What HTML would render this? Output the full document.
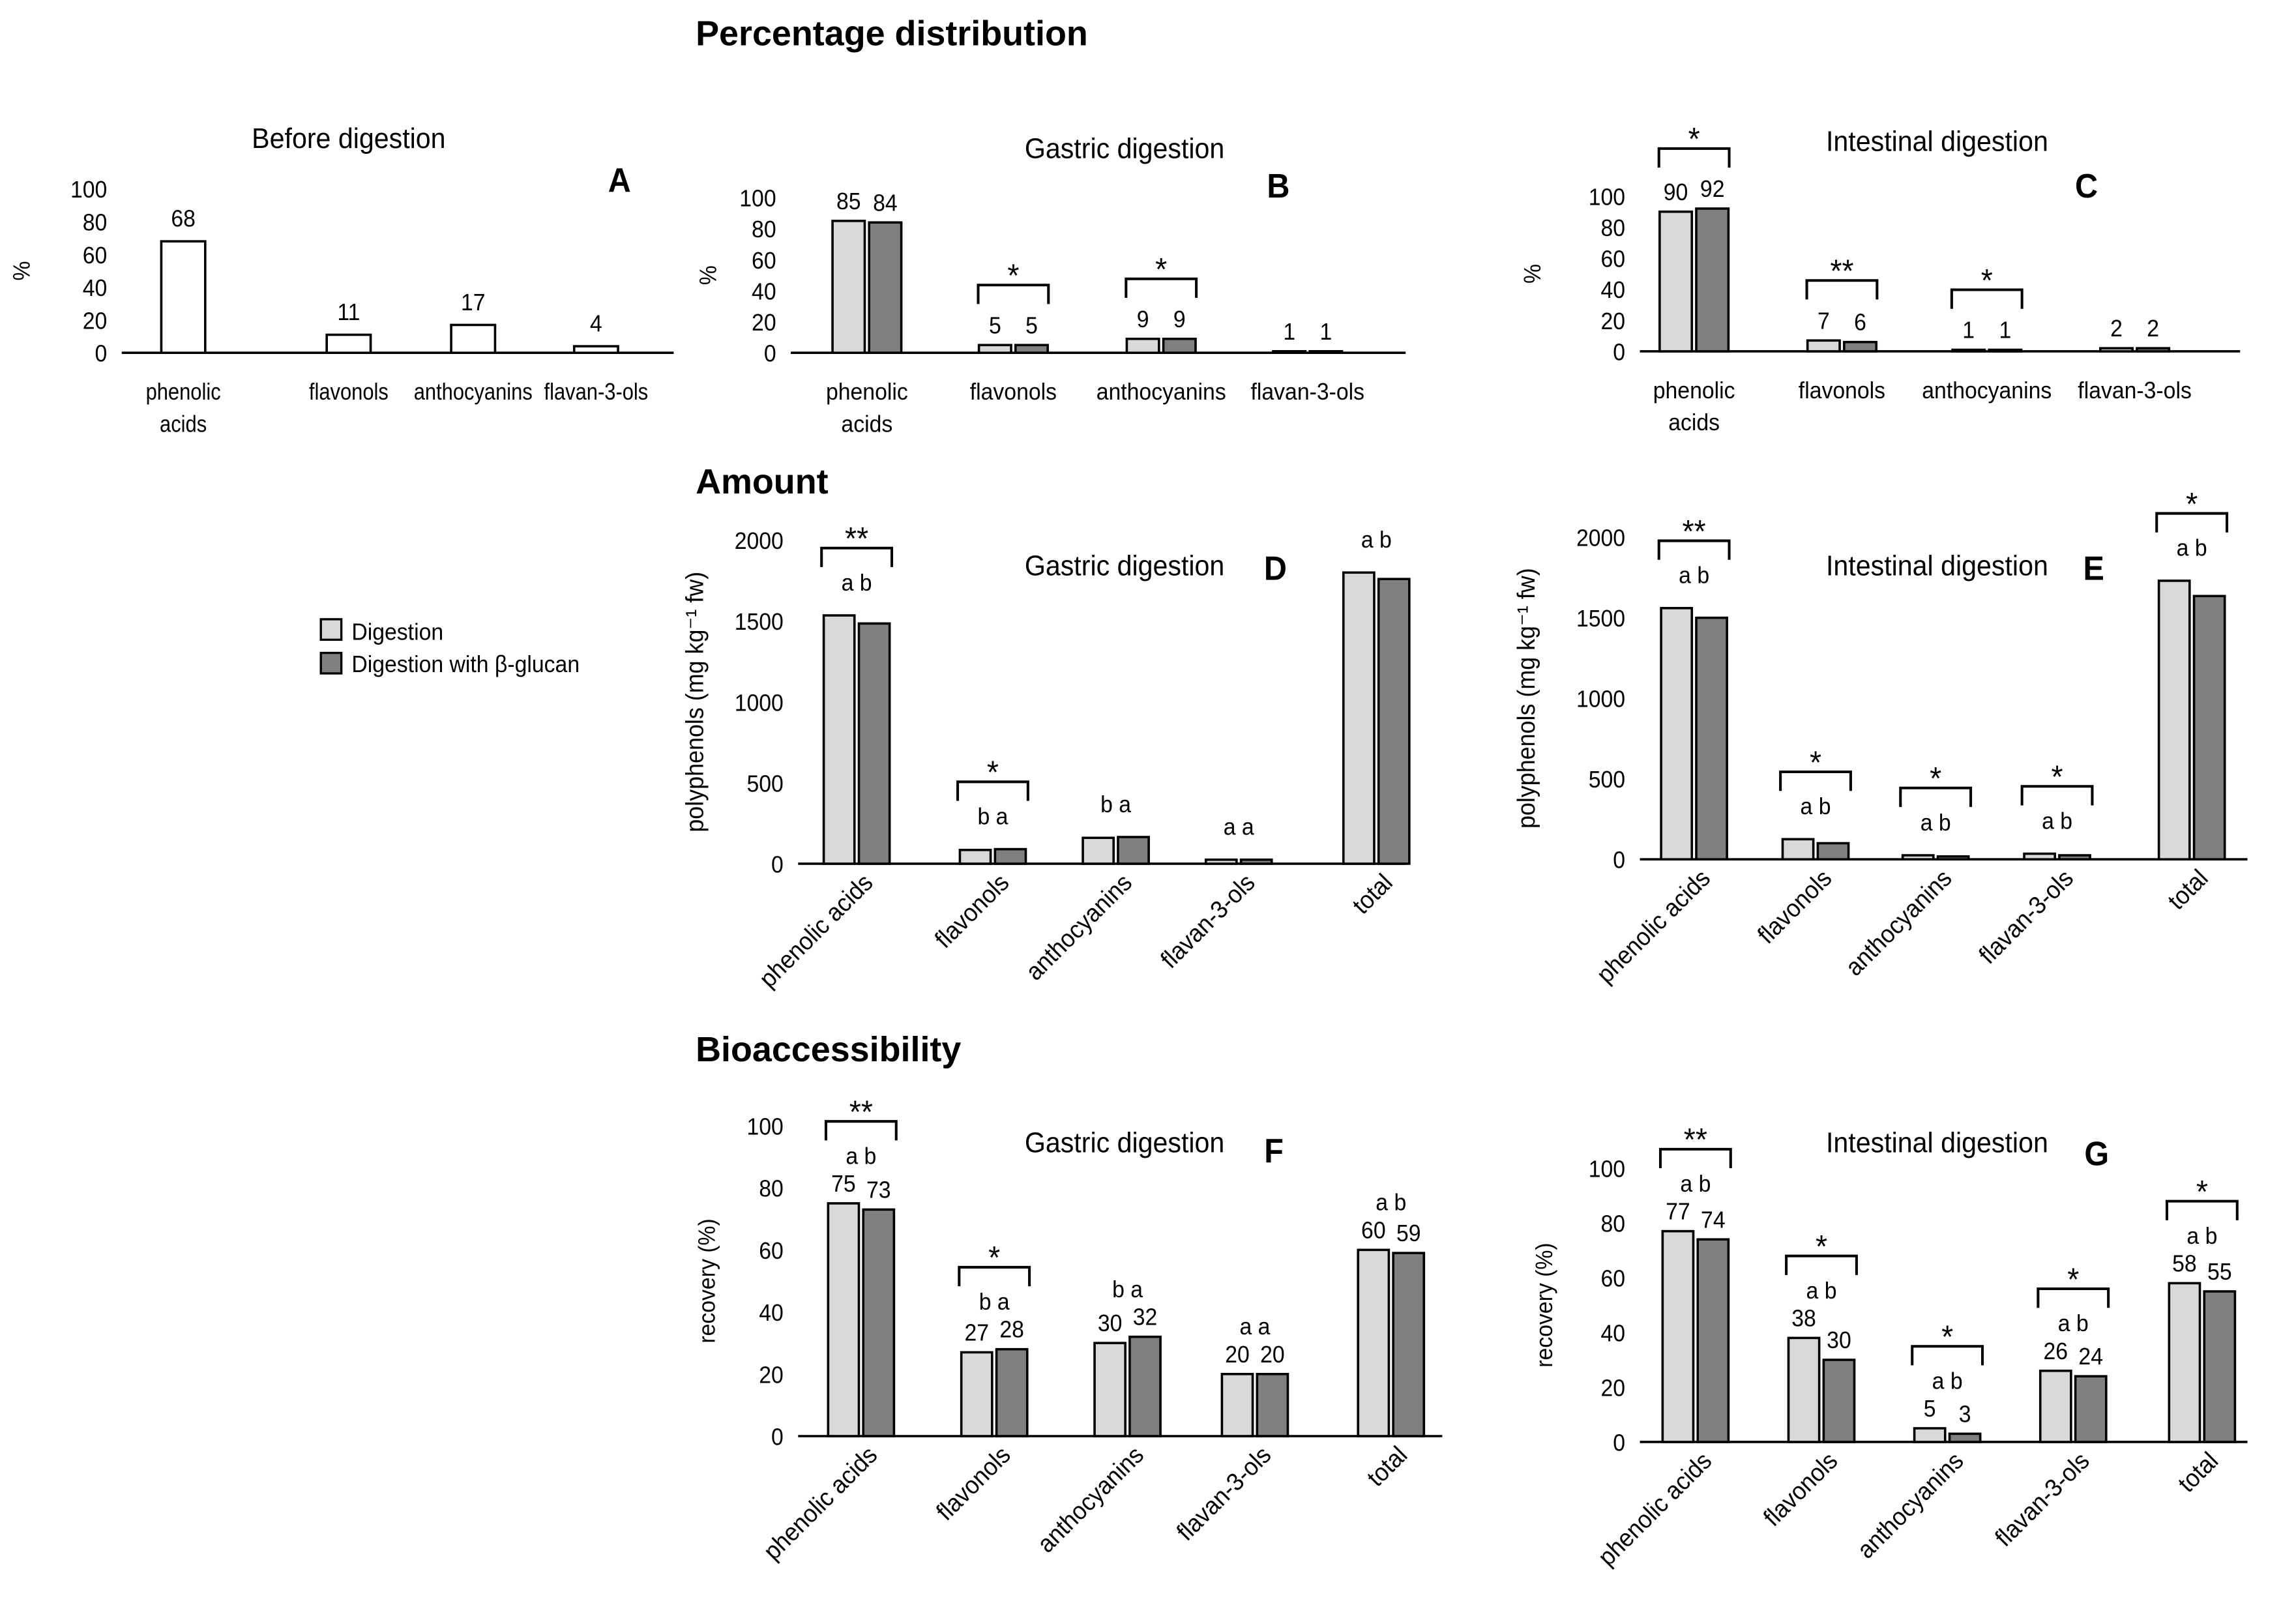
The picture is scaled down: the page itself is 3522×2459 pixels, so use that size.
<!DOCTYPE html>
<html><head><meta charset="utf-8"><style>
html,body{margin:0;padding:0;background:#fff;}
svg{display:block;}
text{font-family:"Liberation Sans",sans-serif;fill:#000;}
</style></head><body>
<svg id="fig" xmlns="http://www.w3.org/2000/svg" width="3522" height="2459" viewBox="0 0 1568 1095">
<rect width="1568" height="1095" fill="#fff"/>
<text x="475" y="31" font-size="24" font-weight="bold">Percentage distribution</text>
<text x="475" y="337" font-size="24" font-weight="bold">Amount</text>
<text x="475" y="725" font-size="24" font-weight="bold">Bioaccessibility</text>
<g>
<rect x="219" y="423" width="14" height="14" fill="#d9d9d9" stroke="#000" stroke-width="1.5"/>
<text transform="translate(240,437) scale(0.94,1)" font-size="16">Digestion</text>
<rect x="219" y="446" width="14" height="14" fill="#808080" stroke="#000" stroke-width="1.5"/>
<text transform="translate(240,459) scale(0.94,1)" font-size="16">Digestion with β-glucan</text>
</g>
<g id="charts"></g>
</svg>
<script>
// ---- data ----
const catsPct = ["phenolic acids","flavonols","anthocyanins","flavan-3-ols"];
const catsAll = ["phenolic acids","flavonols","anthocyanins","flavan-3-ols","total"];
const valsA = [68,11,17,4];
const bLight = [85,5,9,1];
const bDark = [84,5,9,1];
const cLight = [90,7,1,2];
const cDark = [92,6,1,2];
const dLight = [1535,85,160,25,1800];
const dDark = [1485,90,165,25,1760];
const eLight = [1560,125,25,35,1730];
const eDark = [1500,100,18,25,1635];
const fLight = [75,27,30,20,60];
const fDark = [73,28,32,20,59];
const gLight = [77,38,5,26,58];
const gDark = [74,30,3,24,55];
const bStars = ["","*","*",""];
const cStars = ["*","**","*",""];
const dStars = ["**","*","","",""];
const dLetters = ["a b","b a","b a","a a","a b"];
const eStars = ["**","*","*","*","*"];
const eLetters = ["a b","a b","a b","a b","a b"];
const fStars = ["**","*","","",""];
const fLetters = ["a b","b a","b a","a a","a b"];
const gStars = ["**","*","*","*","*"];
const gLetters = ["a b","a b","a b","a b","a b"];
const pctTicks = [0,20,40,60,80,100];
const amtTicks = [0,500,1000,1500,2000];

const NS="http://www.w3.org/2000/svg";
const root=document.getElementById('charts');
const SX=0.94;
function mk(tag,attrs,parent,txt){const e=document.createElementNS(NS,tag);for(const k in attrs)e.setAttribute(k,attrs[k]);if(txt!==undefined)e.textContent=txt;(parent||root).appendChild(e);return e;}
function T(g,x,y,txt,size,anchor,rot,bold,sx){
  const tr=`translate(${x},${y})`+(rot?` rotate(${rot})`:'')+` scale(${sx||SX},1)`;
  const a={transform:tr,'font-size':size,'text-anchor':anchor||'middle'};
  if(bold)a['font-weight']='bold';
  return mk('text',a,g,txt);
}

function panel(o){
  const g=mk('g',{});
  
  
  const y=v=>o.y0-(v/o.max)*(o.y0-o.y1);
  const ax=mk('line',{x1:o.xl,x2:o.xr,y1:o.y0,y2:o.y0,stroke:'#000','stroke-width':1.6},g);
  
  
  o.ticks.forEach(t=>{const tt=T(g,o.xl-10,y(t)+6,String(t),16,'end');
    
    });
  const yt=T(g,o.ytx,(o.y0+o.y1)/2,o.ytitle,o.ytSize||16,'middle',-90);
  
  
  const ti=T(g,o.tx,o.ty,o.title,19.5,'middle');
  
  
  const lt=T(g,o.lx,o.ly,o.id,23,'middle',0,true);
  
  
  o.cats.forEach((c,i)=>{
    const cx=o.cx[i];
    let tops=[];
    if(o.single){
      const w=30,top=y(o.a[i]);tops.push(top);
      const r=mk('rect',{x:cx-w/2,y:top,width:w,height:o.y0-top,fill:'#fff',stroke:'#000','stroke-width':1.6},g);
      
      
    } else {
      const w=o.bw||22,gap=3;
      [[o.a,'#d9d9d9','digestion'],[o.b,'#808080','beta-glucan']].forEach((s,j)=>{
        const top=y(s[0][i]);tops.push(top);
        const x=j===0?cx-gap/2-w:cx+gap/2;
        const r=mk('rect',{x:x,y:top,width:w,height:o.y0-top,fill:s[1],stroke:'#000','stroke-width':1.6},g);
        
        
        if(o.showVals){const vt=T(g,x+w/2,top-8,String(s[0][i]),16,'middle');
          
          }
      });
    }
    const minTop=Math.min(...tops);
    let base;
    if(o.single){const vt=T(g,cx,minTop-10,String(o.a[i]),16,'middle');
      
      base=minTop-10;}
    else if(o.showVals) base=minTop-8;
    else base=minTop+2;
    if(o.letters&&o.letters[i]){base=base-19;const lt2=T(g,cx,base,o.letters[i],16,'middle');
      
      }
    if(o.stars&&o.stars[i]){
      const bot=base-(o.letters?16:20),top=bot-13,hw=24;
      const p=mk('path',{d:`M${cx-hw},${bot} V${top} H${cx+hw} V${bot}`,fill:'none',stroke:'#000','stroke-width':1.8},g);
      
      
      const st=T(g,cx,top+1,o.stars[i],22,'middle');
      
      
    }
    if(o.rot){
      const t=T(g,cx+12,o.y0+14,c,17,'end',-45);
      
      
    } else {
      const parts=(c==='phenolic acids')?['phenolic','acids']:[c];
      parts.forEach((p,k)=>{const t=T(g,cx,o.y0+32+k*22,p,16,'middle',0,false,o.labSX);
        
        });
    }
  });
}
panel({id:'A',single:true,labSX:0.86,cats:catsPct,a:valsA,max:100,ticks:pctTicks,y0:241,y1:129,xl:83,xr:460,cx:[125,238,323,407],ytitle:'%',ytx:20,title:'Before digestion',tx:238,ty:101,lx:423,ly:131});
panel({id:'B',cats:catsPct,a:bLight,b:bDark,max:100,ticks:pctTicks,y0:241,y1:135,xl:540,xr:960,cx:[592,692,793,893],showVals:true,stars:bStars,ytitle:'%',ytx:489,title:'Gastric digestion',tx:768,ty:108,lx:873,ly:135});
panel({id:'C',cats:catsPct,a:cLight,b:cDark,max:100,ticks:pctTicks,y0:240,y1:134,xl:1120,xr:1530,cx:[1157,1258,1357,1458],showVals:true,stars:cStars,ytitle:'%',ytx:1052,title:'Intestinal digestion',tx:1323,ty:103,lx:1425,ly:135});
panel({id:'D',rot:true,cats:catsAll,a:dLight,b:dDark,max:2000,ticks:amtTicks,y0:590,y1:369,xl:545,xr:960,cx:[585,678,762,846,940],bw:21,stars:dStars,letters:dLetters,ytitle:'polyphenols (mg kg⁻¹ fw)',ytSize:17,ytx:480,title:'Gastric digestion',tx:768,ty:393,lx:871,ly:396});
panel({id:'E',rot:true,cats:catsAll,a:eLight,b:eDark,max:2000,ticks:amtTicks,y0:587,y1:367,xl:1120,xr:1535,cx:[1157,1240,1322,1405,1497],bw:21,stars:eStars,letters:eLetters,ytitle:'polyphenols (mg kg⁻¹ fw)',ytSize:17,ytx:1048,title:'Intestinal digestion',tx:1323,ty:393,lx:1430,ly:396});
panel({id:'F',rot:true,cats:catsAll,a:fLight,b:fDark,max:100,ticks:pctTicks,y0:981,y1:769,xl:545,xr:985,cx:[588,679,770,857,950],bw:21,showVals:true,stars:fStars,letters:fLetters,ytitle:'recovery (%)',ytSize:16,ytx:488,title:'Gastric digestion',tx:768,ty:787,lx:870,ly:794});
panel({id:'G',rot:true,cats:catsAll,a:gLight,b:gDark,max:100,ticks:pctTicks,y0:985,y1:798,xl:1120,xr:1535,cx:[1158,1244,1330,1416,1504],bw:21,showVals:true,stars:gStars,letters:gLetters,ytitle:'recovery (%)',ytSize:16,ytx:1060,title:'Intestinal digestion',tx:1323,ty:787,lx:1432,ly:796});
</script>
</body></html>
